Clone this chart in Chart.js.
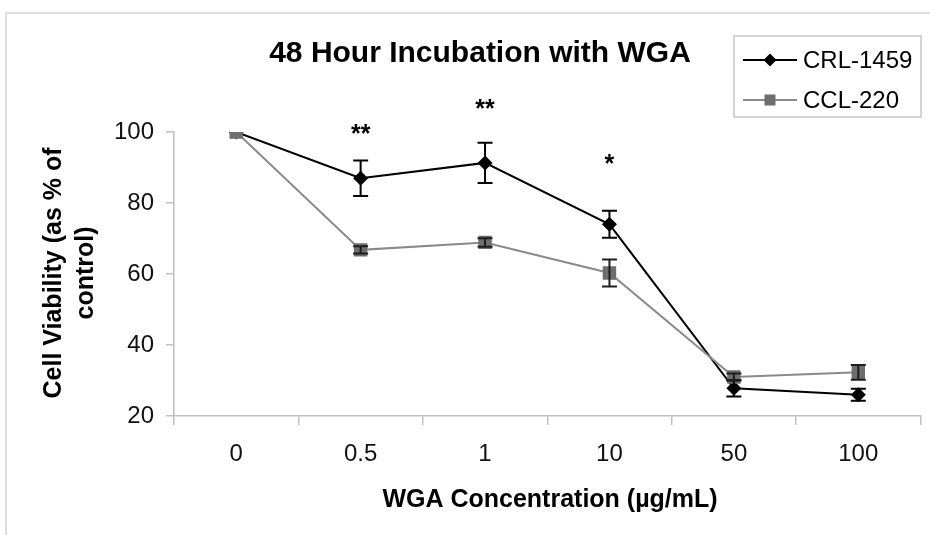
<!DOCTYPE html>
<html>
<head>
<meta charset="utf-8">
<script src="https://cdn.jsdelivr.net/npm/chart.js@4.4.0/dist/chart.umd.min.js"></script>
<style>
  html, body { margin: 0; padding: 0; background: #fff; }
  #wrap { position: relative; width: 930px; height: 535px; }
</style>
</head>
<body>
<div id="wrap"><canvas id="chart" width="930" height="535"></canvas></div>
<script>
// data
const concentrations = ["0", "0.5", "1", "10", "50", "100"];
const crlViability = [100, 87.0, 91.3, 74.0, 27.8, 26.0];
const crlError     = [0, 5.0, 5.7, 3.8, 2.3, 1.7];
const cclViability = [100, 66.8, 68.9, 60.3, 31.0, 32.3];
const cclError     = [0, 1.0, 1.2, 3.8, 1.0, 2.1];
const starLabels   = ["", "**", "**", "*", "", ""];
const starHeights  = [null, 101.1, 108.2, 92.7, null, null];
const yTicks = [20, 40, 60, 80, 100];

const FONT = "'Liberation Sans', Arial, Helvetica, sans-serif";
const AXIS_GRAY = "#c0c0c0";

function drawDiamond(ctx, x, y, r, col) {
  ctx.beginPath();
  ctx.moveTo(x, y - r);
  ctx.lineTo(x + r, y);
  ctx.lineTo(x, y + r);
  ctx.lineTo(x - r, y);
  ctx.closePath();
  ctx.fillStyle = col;
  ctx.fill();
}

function drawSquare(ctx, x, y, s, col) {
  ctx.fillStyle = col;
  ctx.fillRect(x - s / 2, y - s / 2, s, s);
}

// error bars, stars, titles, legend, frame
const extras = {
  id: "extras",
  afterDatasetsDraw(chart) {
    const ctx = chart.ctx;
    const yScale = chart.scales.y;
    const errs = [crlError, cclError];
    const vals = [crlViability, cclViability];
    const cols = ["#000", "#1e1e1e"];
    ctx.save();
    for (let d = 0; d < 2; d++) {
      const meta = chart.getDatasetMeta(d);
      meta.data.forEach((pt, i) => {
        const e = errs[d][i];
        if (!e) return;
        const yt = yScale.getPixelForValue(vals[d][i] + e);
        const yb = yScale.getPixelForValue(vals[d][i] - e);
        ctx.strokeStyle = cols[d];
        ctx.lineWidth = 2;
        ctx.beginPath();
        ctx.moveTo(pt.x, yt); ctx.lineTo(pt.x, yb);
        ctx.moveTo(pt.x - 7.5, yt); ctx.lineTo(pt.x + 7.5, yt);
        ctx.moveTo(pt.x - 7.5, yb); ctx.lineTo(pt.x + 7.5, yb);
        ctx.stroke();
      });
    }
    ctx.restore();
  },
  afterDraw(chart) {
    const ctx = chart.ctx;
    const xScale = chart.scales.x;
    const yScale = chart.scales.y;
    ctx.save();

    // outer frame (cropped chart border)
    ctx.strokeStyle = "#d2d2d2";
    ctx.lineWidth = 1.5;
    ctx.beginPath();
    ctx.moveTo(6, 535); ctx.lineTo(6, 13); ctx.lineTo(930, 13);
    ctx.stroke();

    // significance stars
    ctx.fillStyle = "#000";
    ctx.font = "bold 25px " + FONT;
    ctx.textAlign = "center";
    ctx.textBaseline = "alphabetic";
    starLabels.forEach((s, i) => {
      if (!s) return;
      const x = xScale.getPixelForValue(i);
      const y = yScale.getPixelForValue(starHeights[i]);
      ctx.fillText(s, x, y + 14);
    });

    // chart title
    ctx.font = "bold 30px " + FONT;
    ctx.fillText("48 Hour Incubation with WGA", 480, 62);

    // x axis title
    ctx.font = "bold 25px " + FONT;
    ctx.fillText("WGA Concentration (\u00b5g/mL)", 550, 507);

    // y axis title, two lines
    ctx.save();
    ctx.translate(0, 273);
    ctx.rotate(-Math.PI / 2);
    ctx.fillText("Cell Viability (as % of", 0, 61);
    ctx.fillText("control)", 0, 93);
    ctx.restore();

    // legend
    ctx.strokeStyle = "#c6c6c6";
    ctx.lineWidth = 1.5;
    ctx.strokeRect(734, 36, 187, 81);
    const rows = [
      { y: 60, line: "#000", label: "CRL-1459", mark: "d" },
      { y: 100, line: "#8a8a8a", label: "CCL-220", mark: "s" }
    ];
    rows.forEach(r => {
      ctx.strokeStyle = r.line;
      ctx.lineWidth = 2;
      ctx.beginPath();
      ctx.moveTo(743, r.y); ctx.lineTo(797, r.y);
      ctx.stroke();
      if (r.mark === "d") drawDiamond(ctx, 770, r.y, 6.5, "#000");
      else drawSquare(ctx, 770, r.y, 11, "#6e6e6e");
      ctx.fillStyle = "#000";
      ctx.font = "24px " + FONT;
      ctx.textAlign = "left";
      ctx.textBaseline = "middle";
      ctx.fillText(r.label, 803, r.y + 1);
    });

    ctx.restore();
  }
};

const ctx = document.getElementById("chart").getContext("2d");
const viabilityChart = new Chart(ctx, {
  type: "line",
  data: {
    labels: concentrations,
    datasets: [
      {
        label: "CRL-1459",
        data: crlViability,
        borderColor: "#000",
        borderWidth: 2,
        pointStyle: "rectRot",
        pointRadius: 7.5,
        pointBackgroundColor: "#000",
        pointBorderColor: "#000",
        pointBorderWidth: 0,
        tension: 0,
        order: 1
      },
      {
        label: "CCL-220",
        data: cclViability,
        borderColor: "#8a8a8a",
        borderWidth: 2,
        pointStyle: "rect",
        pointRadius: 9.5,
        pointBackgroundColor: "#6e6e6e",
        pointBorderColor: "#6e6e6e",
        pointBorderWidth: 0,
        tension: 0,
        order: 0
      }
    ]
  },
  options: {
    responsive: false,
    animation: false,
    layout: { padding: { top: 132, right: 9, left: 0, bottom: 0 } },
    plugins: {
      legend: { display: false },
      title: { display: false },
      tooltip: { enabled: false }
    },
    scales: {
      x: {
        offset: true,
        grid: { offset: true, drawOnChartArea: false, tickLength: 9, color: AXIS_GRAY, lineWidth: 1.5 },
        border: { color: AXIS_GRAY, width: 1.5 },
        ticks: { color: "#111", font: { family: FONT, size: 24 }, padding: 15, maxRotation: 0 },
        afterFit(scale) { scale.height = 119; }
      },
      y: {
        min: 20,
        max: 100,
        afterBuildTicks(scale) { scale.ticks = yTicks.map(v => ({ value: v })); },
        grid: { drawOnChartArea: false, tickLength: 8, color: AXIS_GRAY, lineWidth: 1.5 },
        border: { color: AXIS_GRAY, width: 1.5 },
        ticks: { color: "#111", font: { family: FONT, size: 24 }, padding: 12 },
        afterFit(scale) { scale.width = 174; }
      }
    }
  },
  plugins: [extras]
});
</script>
</body>
</html>
